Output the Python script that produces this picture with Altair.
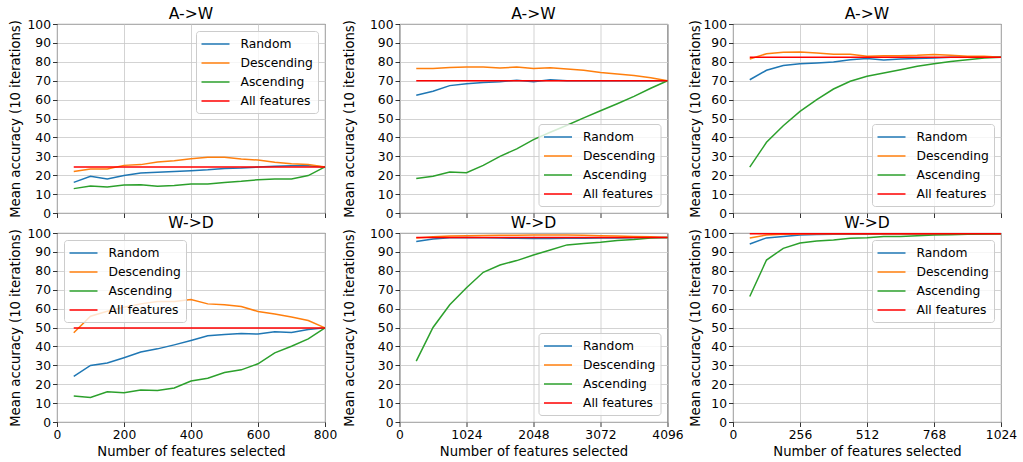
import altair as alt
import pandas as pd

METHODS = ["Random", "Descending", "Ascending", "All features"]
COLORS = ["#1f77b4", "#ff7f0e", "#2ca02c", "#ff0000"]

# Feature counts for the three feature-space sizes
n_800 = [50, 100, 150, 200, 250, 300, 350, 400, 450, 500, 550, 600, 650, 700, 750, 800]
n_4096 = [256, 512, 768, 1024, 1280, 1536, 1792, 2048, 2304, 2560, 2816, 3072, 3328, 3584, 3840, 4096]
n_1024 = [64, 128, 192, 256, 320, 384, 448, 512, 576, 640, 704, 768, 832, 896, 960, 1024]

# A->W, 800 features
aw800_random = [16.2, 19.4, 18.0, 19.8, 21.2, 21.5, 21.9, 22.4, 22.9, 23.6, 23.8, 24.3, 24.7, 25.0, 25.0, 24.4]
aw800_desc = [21.9, 23.3, 23.3, 25.2, 25.6, 27.0, 27.7, 28.7, 29.5, 29.5, 28.6, 28.0, 26.8, 26.1, 25.6, 24.4]
aw800_asc = [12.9, 14.3, 13.8, 14.8, 15.0, 14.1, 14.5, 15.3, 15.3, 16.2, 16.8, 17.6, 18.0, 18.0, 19.8, 24.4]
aw800_all = 24.4

# W->D, 800 features
wd800_random = [24.1, 29.9, 31.2, 34.0, 37.0, 38.7, 40.8, 43.1, 45.6, 46.3, 46.8, 46.5, 47.7, 47.4, 48.9, 49.8]
wd800_desc = [47.2, 56.0, 58.6, 60.7, 62.5, 63.7, 63.7, 64.8, 62.5, 62.0, 61.1, 58.5, 57.2, 55.5, 53.7, 49.8]
wd800_asc = [13.7, 13.0, 16.0, 15.5, 16.9, 16.7, 18.0, 21.7, 23.2, 26.2, 27.6, 30.8, 36.6, 40.1, 44.0, 49.8]
wd800_all = 49.8

# A->W, 4096 features
aw4096_random = [62.3, 64.4, 67.4, 68.4, 69.1, 69.5, 70.2, 69.5, 70.5, 70.0, 70.0, 70.0, 70.0, 70.0, 70.0, 70.0]
aw4096_desc = [76.5, 76.5, 77.0, 77.2, 77.2, 76.7, 77.2, 76.4, 76.9, 76.2, 75.5, 74.3, 73.5, 72.7, 71.6, 70.0]
aw4096_asc = [18.2, 19.4, 21.7, 21.3, 25.2, 30.0, 33.9, 38.8, 42.7, 46.4, 50.3, 54.1, 57.8, 61.7, 66.0, 70.0]
aw4096_all = 70.0

# W->D, 4096 features
wd4096_random = [95.5, 96.8, 97.5, 97.6, 97.5, 97.3, 97.2, 97.1, 97.1, 97.2, 97.2, 97.3, 97.4, 97.5, 97.6, 97.6]
wd4096_desc = [97.4, 98.0, 98.4, 98.6, 98.7, 98.8, 98.8, 98.9, 98.9, 98.9, 98.8, 98.6, 98.4, 98.2, 98.0, 97.6]
wd4096_asc = [32.2, 50.0, 62.0, 71.0, 79.2, 83.1, 85.4, 88.4, 91.0, 93.7, 94.5, 95.1, 96.0, 96.5, 97.4, 97.6]
wd4096_all = 97.6

# A->W, 1024 features
aw1024_random = [70.5, 75.5, 78.0, 79.0, 79.4, 79.9, 81.1, 81.7, 81.0, 81.5, 81.7, 82.0, 82.4, 82.4, 82.4, 82.4]
aw1024_desc = [81.5, 84.3, 85.0, 85.2, 84.7, 84.0, 84.0, 82.9, 83.2, 83.2, 83.4, 83.8, 83.4, 82.9, 82.9, 82.4]
aw1024_asc = [24.3, 37.4, 46.2, 53.8, 60.0, 65.6, 69.7, 72.3, 74.1, 75.8, 77.6, 79.0, 80.2, 81.1, 82.0, 82.4]
aw1024_all = 82.4

# W->D, 1024 features
wd1024_random = [94.2, 97.4, 98.1, 98.9, 99.2, 99.3, 99.4, 99.4, 99.5, 99.5, 99.5, 99.5, 99.6, 99.6, 99.6, 99.6]
wd1024_desc = [97.4, 98.9, 99.4, 99.5, 99.6, 99.6, 99.6, 99.6, 99.6, 99.6, 99.6, 99.6, 99.6, 99.6, 99.6, 99.6]
wd1024_asc = [66.4, 85.7, 91.9, 94.7, 95.8, 96.3, 97.2, 97.5, 98.1, 98.2, 98.6, 98.9, 99.1, 99.3, 99.5, 99.6]
wd1024_all = 99.6

ticks_800 = [0, 200, 400, 600, 800]
ticks_4096 = [0, 1024, 2048, 3072, 4096]
ticks_1024 = [0, 256, 512, 768, 1024]
y_ticks = [0, 10, 20, 30, 40, 50, 60, 70, 80, 90, 100]

FONT = "DejaVu Sans"
W, H = 268, 189


def panel(title, n, random, desc, asc, all_val, xmax, xticks, bottom, legend_orient, ytitle_pad=5):
    rows = []
    for name, vals in (("Random", random), ("Descending", desc), ("Ascending", asc)):
        rows += [{"n": a, "acc": b, "method": name} for a, b in zip(n, vals)]
    rows += [{"n": n[0], "acc": all_val, "method": "All features"},
             {"n": n[-1], "acc": all_val, "method": "All features"}]
    df = pd.DataFrame(rows)

    if bottom:
        x_axis = alt.Axis(values=xticks, format="d", title="Number of features selected",
                          labelFlush=False, grid=True)
    else:
        x_axis = alt.Axis(values=xticks, labels=False, title=None, grid=True)
    x = alt.X("n:Q", scale=alt.Scale(domain=[0, xmax], nice=False, zero=False), axis=x_axis)
    y = alt.Y("acc:Q", scale=alt.Scale(domain=[0, 100], nice=False),
              axis=alt.Axis(values=y_ticks, title="Mean accuracy (10 iterations)", grid=True,
                            titlePadding=ytitle_pad))
    color = alt.Color(
        "method:N",
        scale=alt.Scale(domain=METHODS, range=COLORS),
        legend=alt.Legend(
            title=None, orient=legend_orient, offset=7,
            fillColor="rgba(255,255,255,0.8)", strokeColor="#cccccc", cornerRadius=3,
            padding=5, symbolType="M-2,0L2,0", symbolSize=196, symbolStrokeWidth=1.5,
            symbolOffset=6.5, labelOffset=17, rowPadding=4,
            labelFont=FONT, labelFontSize=12.3, labelColor="black", labelLimit=200,
        ),
    )
    base = alt.Chart(df).encode(x=x, y=y, color=color)
    curves = base.transform_filter(alt.datum.method != "All features").mark_line(strokeWidth=1.5)
    ref = base.transform_filter(alt.datum.method == "All features").mark_line(strokeWidth=1.5)
    return alt.layer(curves, ref).properties(
        width=W, height=H,
        title=alt.TitleParams(title, font=FONT, fontSize=15.6, fontWeight="normal", color="black", offset=-5),
    )


def column(top, bottom):
    return alt.vconcat(top, bottom, spacing=-5).resolve_scale(
        color="independent").resolve_legend(color="independent")


col1 = column(
    panel("A->W", n_800, aw800_random, aw800_desc, aw800_asc, aw800_all, 800, ticks_800, False, "top-right"),
    panel("W->D", n_800, wd800_random, wd800_desc, wd800_asc, wd800_all, 800, ticks_800, True, "top-left"),
)
col2 = column(
    panel("A->W", n_4096, aw4096_random, aw4096_desc, aw4096_asc, aw4096_all, 4096, ticks_4096, False,
          "bottom-right", ytitle_pad=13.5),
    panel("W->D", n_4096, wd4096_random, wd4096_desc, wd4096_asc, wd4096_all, 4096, ticks_4096, True,
          "bottom-right", ytitle_pad=13.5),
)
col3 = column(
    panel("A->W", n_1024, aw1024_random, aw1024_desc, aw1024_asc, aw1024_all, 1024, ticks_1024, False,
          "bottom-right", ytitle_pad=0.5),
    panel("W->D", n_1024, wd1024_random, wd1024_desc, wd1024_asc, wd1024_all, 1024, ticks_1024, True,
          "top-right", ytitle_pad=0.5),
)

chart = alt.hconcat(col1, col2, col3, spacing=3.5).resolve_scale(
    color="independent").resolve_legend(color="independent").properties(
    padding={"left": 7, "top": 6, "right": 0, "bottom": 0},
    background="white",
).configure_view(
    stroke="#222222", strokeWidth=0.9,
).configure_axis(
    labelFont=FONT, labelFontSize=12.3, labelColor="black", labelPadding=2,
    titleFont=FONT, titleFontSize=13.2, titleFontWeight="normal", titleColor="black", titlePadding=5,
    tickColor="black", tickSize=4.5, tickWidth=0.8, domain=False,
    gridColor="#c8c8c8", gridWidth=0.8,
)

chart.save("out.html", embed_options={"renderer": "svg", "actions": False})
